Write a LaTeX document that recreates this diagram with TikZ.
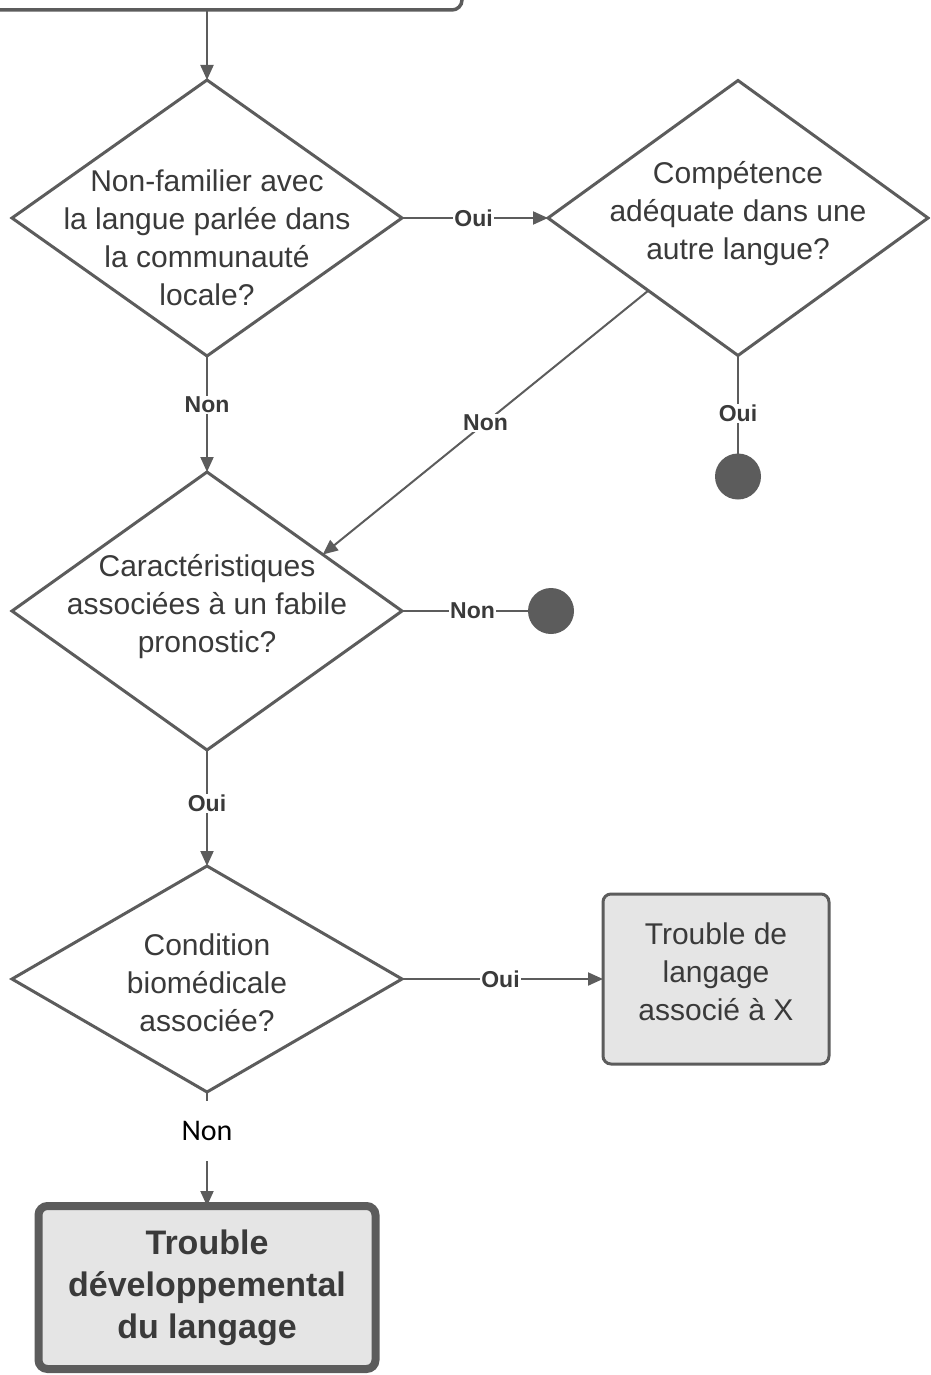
\documentclass[tikz,border=0pt]{standalone}
\usepackage{fontspec}
\setmainfont{Liberation Sans}
\newfontfamily\calib{Carlito}
\usetikzlibrary{arrows.meta,positioning,shapes.geometric}
\definecolor{ink}{HTML}{3A3A3A}
\definecolor{edge}{HTML}{5C5C5C}
\definecolor{boxgray}{HTML}{E5E5E5}

\begin{document}
\begin{tikzpicture}[
  x=1pt,y=1pt,
  decision/.style={diamond,draw=edge,line width=3pt,fill=white,inner sep=0pt,outer sep=0pt,minimum width=390pt,minimum height=276pt},
  dtext/.style={align=center,text=ink,font=\fontsize{30}{38}\selectfont},
  result/.style={draw=edge,line width=3pt,rounded corners=8pt,fill=boxgray,align=center,text=ink,outer sep=0pt,minimum width=226pt,minimum height=170pt,font=\fontsize{30}{38}\selectfont},
  final/.style={draw=edge,line width=8pt,rounded corners=9pt,fill=boxgray,align=center,text=ink,outer sep=0pt,minimum width=337pt,minimum height=163pt,font=\bfseries\fontsize{34}{42}\selectfont},
  stop/.style={circle,fill=edge,inner sep=0pt,outer sep=0pt,minimum size=46pt},
  link/.style={draw=edge,line width=2pt},
  line/.style={link,-{Triangle[length=15pt,width=13pt]}},
  lbl/.style={fill=white,inner sep=1pt,text=ink,font=\bfseries\fontsize{23}{26}\selectfont},
  lblb/.style={fill=white,inner sep=0pt,minimum height=60pt,text=black,font=\calib\fontsize{30}{36}\selectfont}
]
\path[use as bounding box,clip] (0,0) rectangle (930,-1375);
\node[draw=edge,line width=3.5pt,rounded corners=10pt,outer sep=0pt,minimum width=500pt,minimum height=80pt] (start) at (212,30) {};
\node[decision,label={[dtext,yshift=-20pt]center:Non-familier avec\\la langue parlée dans\\la communauté\\locale?}] (d1) at (207,-218) {};
\node[decision,minimum width=380pt,minimum height=275pt,right=146pt of d1,label={[dtext,yshift=4pt]center:Compétence\\adéquate dans une\\autre langue?}] (d2) {};
\node[stop,below=98pt of d2] (c1) {};
\node[decision,minimum height=278pt,below=116pt of d1,label={[dtext,yshift=4pt]center:Caractéristiques\\associées à un fabile\\pronostic?}] (d3) {};
\node[stop,right=126pt of d3] (c2) {};
\node[decision,minimum height=226pt,below=116pt of d3,label={[dtext,yshift=-4pt]center:Condition\\biomédicale\\associée?}] (d4) {};
\node[result,right=201pt of d4] (lx) {Trouble de\\langage\\associé à X\\[-24pt]};
\node[final,below=114pt of d4] (tdl) {Trouble\\développemental\\du langage};
\draw[line] (start.south -| d1.north) -- (d1.north);
\draw[line] (d1.east) -- node[lbl,pos=0.49]{Oui} (d2.west);
\draw[link] (d2.south) -- node[lbl,pos=0.59]{Oui} (c1.north);
\draw[line] (d1.south) -- node[lbl,pos=0.42]{Non} (d3.north);
\draw[line] (d2.219) -- node[lbl]{Non} (d3.26);
\draw[link] (d3.east) -- node[lbl,pos=0.56]{Non} (c2.west);
\draw[line] (d3.south) -- node[lbl,pos=0.46]{Oui} (d4.north);
\draw[line] (d4.east) -- node[lbl,pos=0.49]{Oui} (lx.west);
\draw[line] (d4.south) -- node[lblb,pos=0.345]{Non} (tdl.north);
\end{tikzpicture}
\end{document}
